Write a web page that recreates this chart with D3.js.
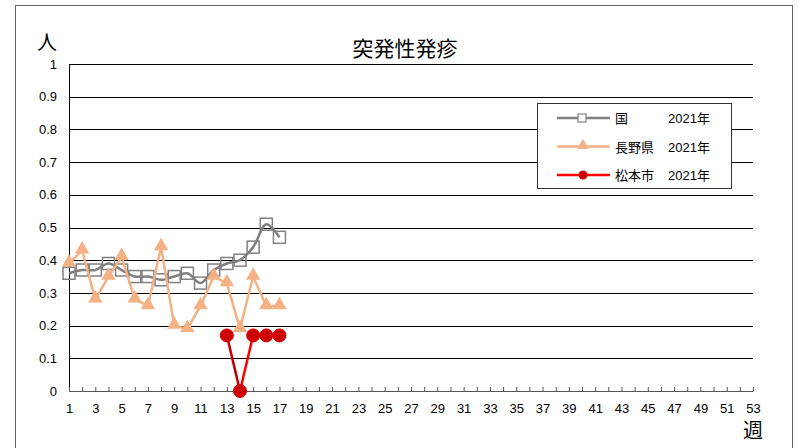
<!DOCTYPE html>
<html>
<head>
<meta charset="utf-8">
<script src="https://cdn.jsdelivr.net/npm/d3@7"></script>
<style>
  body { margin: 0; background: #fff; }
  text { font-family: "Liberation Sans", Arial, sans-serif; }
  .jp { font-family: "Noto Sans CJK JP", sans-serif; }
</style>
</head>
<body>
<div id="chart"></div>
<script>
// data
const weeks = d3.range(1, 18);
const kuni = [0.36, 0.37, 0.37, 0.39, 0.37, 0.35, 0.35, 0.34, 0.35, 0.36, 0.33, 0.37, 0.39, 0.40, 0.44, 0.51, 0.47];
const nagano = [0.39, 0.43, 0.28, 0.35, 0.41, 0.28, 0.26, 0.44, 0.20, 0.19, 0.26, 0.35, 0.33, 0.19, 0.35, 0.26, 0.26];
const matsumotoWeeks = [13, 14, 15, 16, 17];
const matsumoto = [0.17, 0, 0.17, 0.17, 0.17];
const xTicks = d3.range(1, 54, 2);
const yTicks = d3.range(0, 11).map(d => d / 10);
const legendNames = ['国', '長野県', '松本市'];
const legendYear = '2021年';

const W = 802, H = 448;
const margin = { top: 64, right: 49, bottom: 57, left: 69 };
const width = W - margin.left - margin.right;
const height = H - margin.top - margin.bottom;

const svg = d3.select('#chart').append('svg')
    .attr('width', W)
    .attr('height', H);

// outer frame
svg.append('rect')
    .attr('x', 15.5).attr('y', 5.5)
    .attr('width', 777).attr('height', 460)
    .attr('fill', 'none')
    .attr('stroke', '#666');

const g = svg.append('g')
    .attr('transform', 'translate(' + margin.left + ',' + margin.top + ')');

const xScale = d3.scaleLinear().domain([1, 53]).range([0, width]);
const yScale = d3.scaleLinear().domain([0, 1]).range([height, 0]);

// gridlines
g.append('g')
    .selectAll('line')
    .data(yTicks.slice(1))
    .join('line')
    .attr('x1', 0).attr('x2', width)
    .attr('y1', d => Math.round(yScale(d)) + 0.5)
    .attr('y2', d => Math.round(yScale(d)) + 0.5)
    .attr('stroke', '#000');

// y axis
const yAxis = d3.axisLeft(yScale).tickValues(yTicks).tickSize(0).tickPadding(12)
    .tickFormat(d => d3.format('')(d));
const yAxisGroup = g.append('g').call(yAxis);
yAxisGroup.select('.domain').attr('stroke', '#000');
yAxisGroup.selectAll('text').attr('font-size', 13).attr('fill', '#000')
    .attr('font-family', '"Liberation Sans", Arial, sans-serif');

// x axis, ticks every week pointing up
const xAxisGroup = g.append('g')
    .attr('transform', 'translate(0,' + height + ')')
    .call(d3.axisBottom(xScale).tickValues(d3.range(1, 54)).tickSize(-4).tickSizeOuter(0).tickFormat(''));
xAxisGroup.select('.domain').attr('stroke', '#555');
xAxisGroup.selectAll('.tick line').attr('stroke', '#555');

const xLabels = g.append('g')
    .attr('transform', 'translate(0,' + height + ')')
    .call(d3.axisBottom(xScale).tickValues(xTicks).tickSize(0).tickPadding(13).tickFormat(d3.format('d')));
xLabels.select('.domain').remove();
xLabels.selectAll('text').attr('font-size', 13).attr('fill', '#000')
    .attr('font-family', '"Liberation Sans", Arial, sans-serif');

// series
const kuniData = weeks.map((w, i) => [w, kuni[i]]);
const naganoData = weeks.map((w, i) => [w, nagano[i]]);
const matsuData = matsumotoWeeks.map((w, i) => [w, matsumoto[i]]);

const line = d3.line().x(d => xScale(d[0])).y(d => yScale(d[1]));
const smooth = d3.line().x(d => xScale(d[0])).y(d => yScale(d[1])).curve(d3.curveCatmullRom.alpha(0.5));

const grayC = '#808080', orangeC = '#F4B183', redC = '#FF0000', darkRedC = '#C00000';

// 国
g.append('path').datum(kuniData)
    .attr('d', smooth).attr('fill', 'none')
    .attr('stroke', grayC).attr('stroke-width', 2.5);
g.append('g').selectAll('rect').data(kuniData).join('rect')
    .attr('x', d => xScale(d[0]) - 6).attr('y', d => yScale(d[1]) - 6)
    .attr('width', 12).attr('height', 12)
    .attr('fill', 'none').attr('stroke', grayC).attr('stroke-width', 1.5);

// 長野県
const tri = d3.symbol().type(d3.symbolTriangle).size(90);
g.append('path').datum(naganoData)
    .attr('d', line).attr('fill', 'none')
    .attr('stroke', orangeC).attr('stroke-width', 2.5);
g.append('g').selectAll('path').data(naganoData).join('path')
    .attr('d', tri)
    .attr('transform', d => 'translate(' + xScale(d[0]) + ',' + (yScale(d[1]) - 1) + ')')
    .attr('fill', orangeC);

// 松本市
g.append('g').selectAll('line').data(d3.pairs(matsuData)).join('line')
    .attr('x1', d => xScale(d[0][0])).attr('y1', d => yScale(d[0][1]))
    .attr('x2', d => xScale(d[1][0])).attr('y2', d => yScale(d[1][1]))
    .attr('stroke', (d, i) => i === 0 ? darkRedC : redC)
    .attr('stroke-width', 2.5);
g.append('g').selectAll('circle').data(matsuData).join('circle')
    .attr('cx', d => xScale(d[0])).attr('cy', d => yScale(d[1]))
    .attr('r', 6.5)
    .attr('fill', '#CC0000').attr('stroke', '#E00000');

// titles
svg.append('text').attr('class', 'jp')
    .attr('x', 405).attr('y', 56)
    .attr('text-anchor', 'middle')
    .attr('font-size', 21)
    .text('突発性発疹');
svg.append('text').attr('class', 'jp')
    .attr('x', 47).attr('y', 50)
    .attr('text-anchor', 'middle')
    .attr('font-size', 20)
    .text('人');
svg.append('text').attr('class', 'jp')
    .attr('x', 753).attr('y', 438)
    .attr('text-anchor', 'middle')
    .attr('font-size', 20)
    .text('週');

// legend
const legend = svg.append('g').attr('transform', 'translate(537,103)');
legend.append('rect')
    .attr('x', 0.5).attr('y', 0.5)
    .attr('width', 194).attr('height', 85)
    .attr('fill', '#fff').attr('stroke', '#333');
const rows = [
    { name: legendNames[0], color: grayC, type: 'square' },
    { name: legendNames[1], color: orangeC, type: 'tri' },
    { name: legendNames[2], color: redC, type: 'circle' }
];
rows.forEach((r, i) => {
    const y = 15 + i * 28.5;
    const row = legend.append('g').attr('transform', 'translate(0,' + y + ')');
    row.append('line').attr('x1', 20).attr('x2', 73)
        .attr('stroke', r.color).attr('stroke-width', 2.5);
    if (r.type === 'square') {
        row.append('rect').attr('x', 41).attr('y', -4).attr('width', 8).attr('height', 8)
            .attr('fill', '#fff').attr('stroke', r.color).attr('stroke-width', 1.2);
    } else if (r.type === 'tri') {
        row.append('path').attr('d', d3.symbol().type(d3.symbolTriangle).size(60))
            .attr('transform', 'translate(46,-1)').attr('fill', r.color);
    } else {
        row.append('circle').attr('cx', 46).attr('r', 4.5).attr('fill', '#CC0000');
    }
    row.append('text').attr('class', 'jp')
        .attr('x', 78).attr('y', 5).attr('font-size', 13)
        .text(r.name);
    row.append('text')
        .attr('x', 131).attr('y', 5).attr('font-size', 13)
        .text('2021');
    row.append('text').attr('class', 'jp')
        .attr('x', 160).attr('y', 5).attr('font-size', 13)
        .text('年');
});
</script>
</body>
</html>
